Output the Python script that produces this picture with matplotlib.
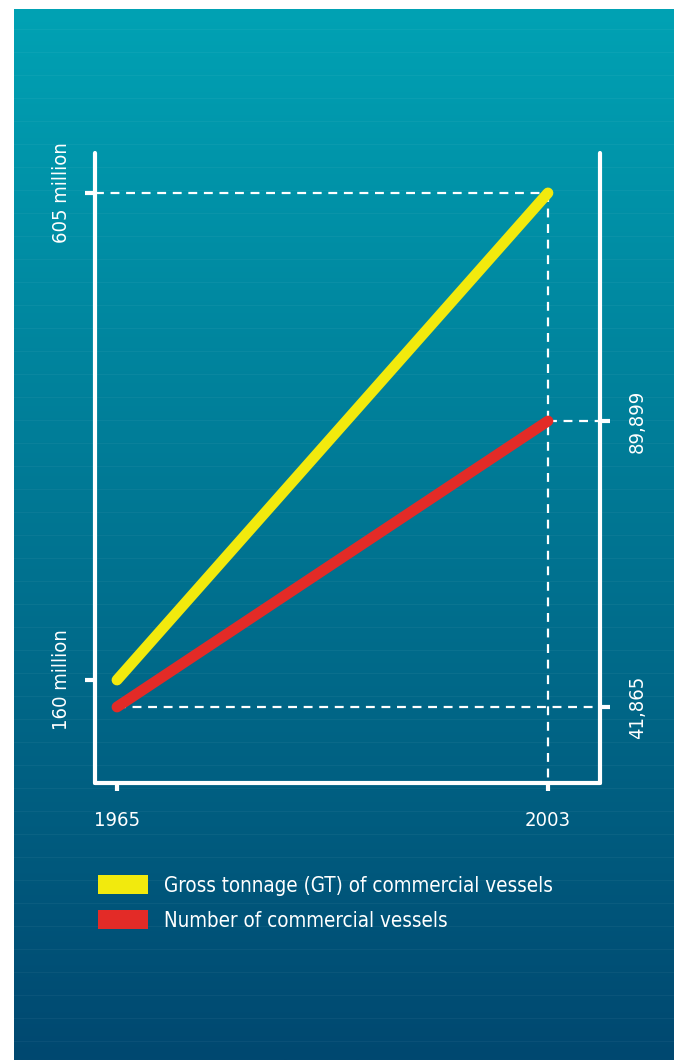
import numpy as np
import matplotlib
matplotlib.use("Agg")
import matplotlib.pyplot as plt
from matplotlib.patches import Patch
from matplotlib import font_manager

# data
years = [1965, 2003]
gross_tonnage = [160, 605]          # million GT
vessels = [41865, 89899]            # number of commercial vessels
year_labels = ["1965", "2003"]
gt_labels = ["160 million", "605 million"]
vessel_labels = ["41,865", "89,899"]
legend_labels = ["Gross tonnage (GT) of commercial vessels",
                 "Number of commercial vessels"]

names = {f.name for f in font_manager.fontManager.ttflist}
if "Liberation Sans Narrow" in names:
    plt.rcParams["font.family"] = ["Liberation Sans Narrow", "DejaVu Sans"]
else:
    plt.rcParams["font.family"] = ["DejaVu Sans"]
    plt.rcParams["font.stretch"] = "condensed"

yellow = "#f2ea0d"
red = "#e32b27"
W, H = 680, 1060

fig = plt.figure(figsize=(W / 100, H / 100), dpi=100, facecolor="white")

# background panel: vertical gradient with faint stripes
bg = fig.add_axes([14 / W, 0, 660 / W, (H - 9) / H], zorder=0)
top = np.array([0, 162, 180]) / 255
bot = np.array([1, 72, 112]) / 255
t = np.linspace(0, 1, 400)[:, None]
grad = top * (1 - t) + bot * t
bg.imshow(grad[:, None, :], aspect="auto", extent=[0, 1, 0, 1])
stripes = np.arange(29, 1060, 23)
for s in stripes:
    yy = 1 - (s - 9) / (H - 9)
    bg.axhline(yy, color="white", alpha=0.045, lw=0.8)
bg.set_xlim(0, 1)
bg.set_ylim(0, 1)
bg.axis("off")

# main axes (box x 95-600, y 153-783 px)
ax = fig.add_axes([95 / W, (H - 783) / H, 505 / W, 630 / H], zorder=2)
ax.set_facecolor("none")
ax2 = ax.twinx()
ax2.set_facecolor("none")

ax.set_xlim(1963.06, 2007.59)
ax.set_ylim(65.9, 641.5)
ax2.set_ylim(29101, 134910)

for a in (ax, ax2):
    for side in a.spines:
        a.spines[side].set_visible(False)
ax.spines["bottom"].set_visible(True)
ax.spines["left"].set_visible(True)
ax2.spines["right"].set_visible(True)
for sp in (ax.spines["left"], ax.spines["bottom"], ax2.spines["right"]):
    sp.set_color("white")
    sp.set_linewidth(3)
    sp.set_capstyle("round")

white = "white"
# dashed guide lines
dash = dict(color=white, lw=1.6, dashes=(4, 3), clip_on=False, zorder=1)
ax.plot([ax.get_xlim()[0], years[1]], [gross_tonnage[1]] * 2, **dash)
ax.plot([years[1]] * 2, [gross_tonnage[1], ax.get_ylim()[0]], **dash)
ax2.plot([years[1], ax.get_xlim()[1]], [vessels[1]] * 2, **dash)
ax2.plot([years[0], ax.get_xlim()[1]], [vessels[0]] * 2, **dash)

ax.plot(years, gross_tonnage, color=yellow, lw=7.8, solid_capstyle="round", zorder=3)
ax2.plot(years, vessels, color=red, lw=7.8, solid_capstyle="round", zorder=3)

ax.set_xticks(years)
ax.set_xticklabels(year_labels)
ax.set_yticks(gross_tonnage)
ax.set_yticklabels(gt_labels, rotation=90, va="center")
ax2.set_yticks(vessels)
ax2.set_yticklabels(vessel_labels, rotation=90, va="center")

ax.tick_params(axis="x", colors=white, length=6, width=3, pad=14, labelsize=14.5)
ax.tick_params(axis="y", colors=white, length=7, width=3, pad=10, labelsize=14.5)
ax2.tick_params(axis="y", colors=white, length=7, width=3, pad=13, labelsize=14.5)
for tl in ax.xaxis.get_ticklines() + ax.yaxis.get_ticklines() + ax2.yaxis.get_ticklines():
    tl.set_solid_capstyle("round")

handles = [Patch(facecolor=yellow, edgecolor="none"),
           Patch(facecolor=red, edgecolor="none")]
leg = fig.legend(handles, legend_labels, loc="upper left",
                 bbox_to_anchor=(98 / W, 1 - 875 / H), frameon=False,
                 fontsize=14.8, handlelength=2.45, handleheight=1.05,
                 handletextpad=0.75, labelspacing=0.72, borderpad=0,
                 borderaxespad=0)
for txt in leg.get_texts():
    txt.set_color(white)

fig.savefig("out.png", dpi=100, facecolor="white")
